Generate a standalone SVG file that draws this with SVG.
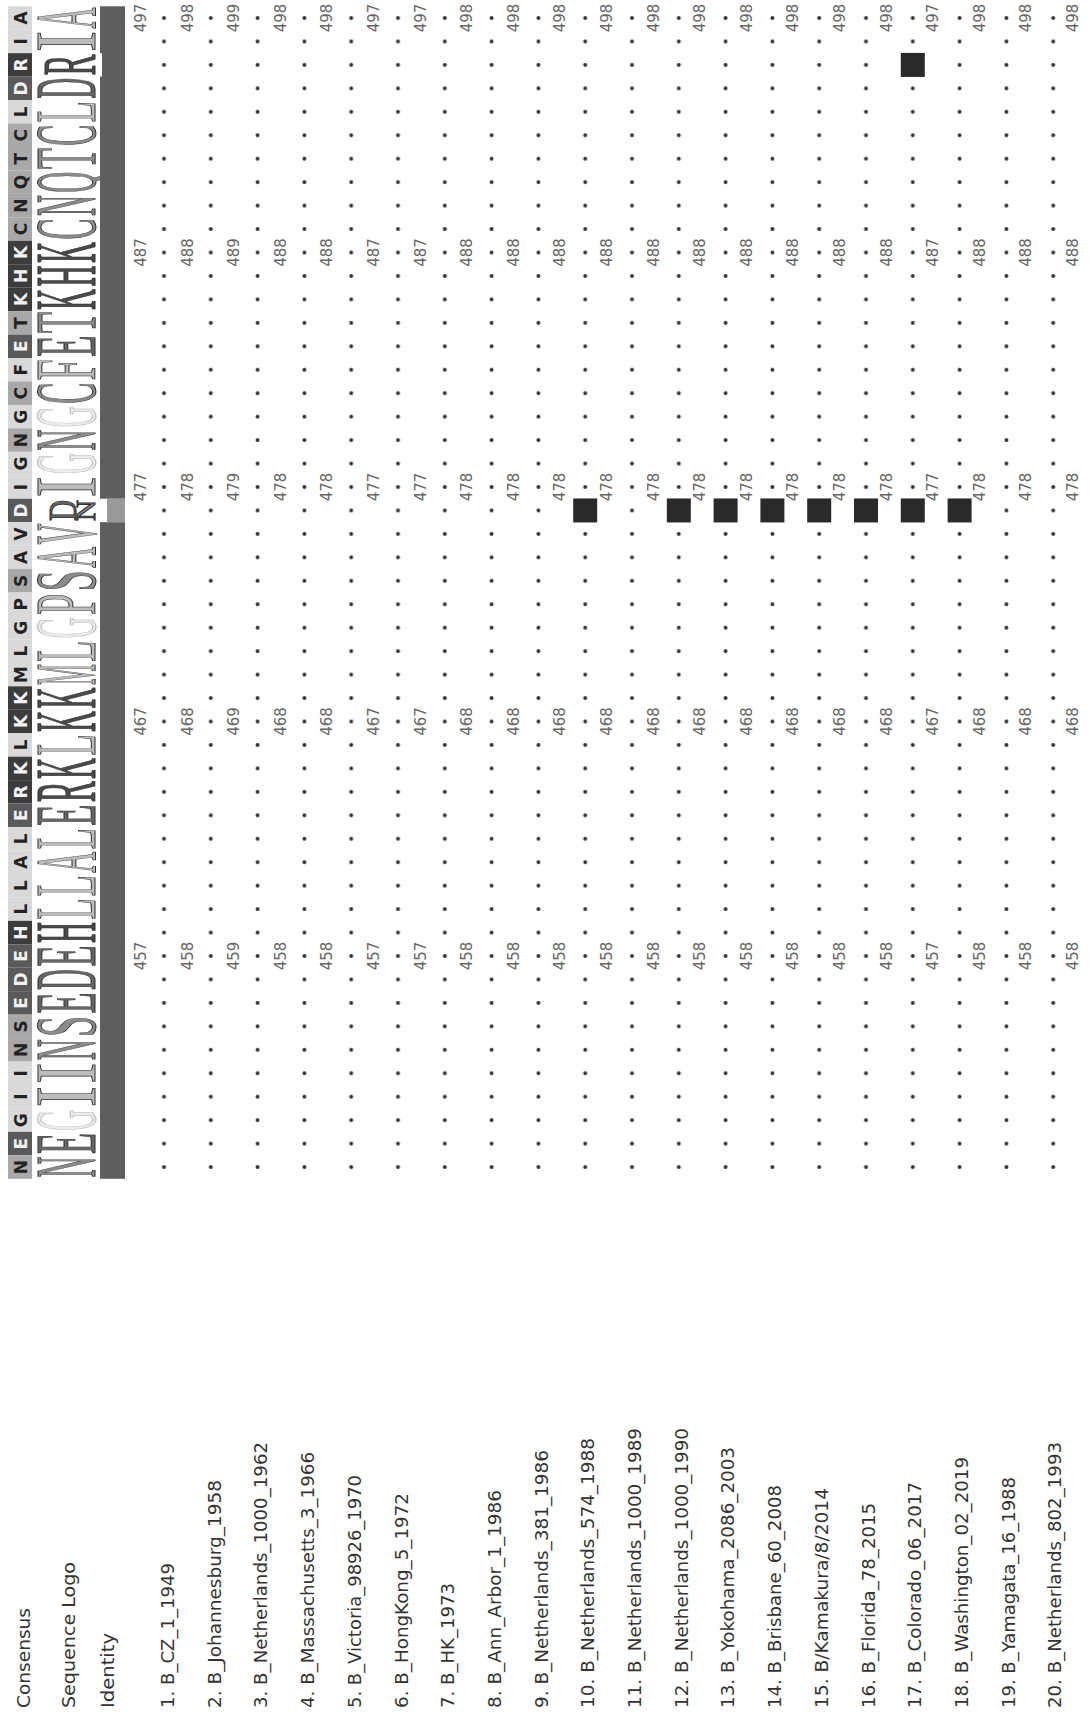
<svg xmlns="http://www.w3.org/2000/svg" width="1090" height="1721" viewBox="0 0 1090 1721">
<style>
.cb{fill:#3c3c3c}.cd{fill:#5a5a5a}.cm{fill:#a8a8a8}.cl{fill:#d9d9d9}
.ct{font-family:"DejaVu Sans",sans-serif;font-size:17px;font-weight:bold;text-anchor:middle}
.tw{fill:#f2f2f2}.tk{fill:#222}
.lg{font-family:"Liberation Serif",serif;font-size:86px;text-anchor:middle;stroke:#2e2e2e;stroke-width:1}
.ln{fill:#bcbcbc}.lp{fill:#8c8c8c}.la{fill:#666}.lb{fill:#4a4a4a}.lgy{fill:#ececec;stroke:#b4b4b4}
.num{font-family:"DejaVu Sans",sans-serif;font-size:15px;text-anchor:middle;fill:#666}
.lab{font-family:"DejaVu Sans",sans-serif;font-size:18px;fill:#333}
.sq{fill:#2a2a2a}
</style>
<defs>
<pattern id="dots" x="140.6" y="6.275" width="46.8" height="23.45" patternUnits="userSpaceOnUse">
<circle cx="23.4" cy="11.725" r="2" fill="#333"/>
</pattern>
</defs>
<rect width="1090" height="1721" fill="#fff"/>
<g id="consensus">
<rect class="cl" x="8" y="6.28" width="24" height="23.45"/><text class="ct tk" transform="translate(27,18) rotate(-90)">A</text>
<rect class="cl" x="8" y="29.73" width="24" height="23.45"/><text class="ct tk" transform="translate(27,41.45) rotate(-90)">I</text>
<rect class="cb" x="8" y="53.18" width="24" height="23.45"/><text class="ct tw" transform="translate(27,64.9) rotate(-90)">R</text>
<rect class="cd" x="8" y="76.63" width="24" height="23.45"/><text class="ct tw" transform="translate(27,88.35) rotate(-90)">D</text>
<rect class="cl" x="8" y="100.08" width="24" height="23.45"/><text class="ct tk" transform="translate(27,111.8) rotate(-90)">L</text>
<rect class="cm" x="8" y="123.53" width="24" height="23.45"/><text class="ct tk" transform="translate(27,135.25) rotate(-90)">C</text>
<rect class="cm" x="8" y="146.98" width="24" height="23.45"/><text class="ct tk" transform="translate(27,158.7) rotate(-90)">T</text>
<rect class="cm" x="8" y="170.43" width="24" height="23.45"/><text class="ct tk" transform="translate(27,182.15) rotate(-90)">Q</text>
<rect class="cm" x="8" y="193.88" width="24" height="23.45"/><text class="ct tk" transform="translate(27,205.6) rotate(-90)">N</text>
<rect class="cm" x="8" y="217.33" width="24" height="23.45"/><text class="ct tk" transform="translate(27,229.05) rotate(-90)">C</text>
<rect class="cb" x="8" y="240.78" width="24" height="23.45"/><text class="ct tw" transform="translate(27,252.5) rotate(-90)">K</text>
<rect class="cb" x="8" y="264.23" width="24" height="23.45"/><text class="ct tw" transform="translate(27,275.95) rotate(-90)">H</text>
<rect class="cb" x="8" y="287.68" width="24" height="23.45"/><text class="ct tw" transform="translate(27,299.4) rotate(-90)">K</text>
<rect class="cm" x="8" y="311.13" width="24" height="23.45"/><text class="ct tk" transform="translate(27,322.85) rotate(-90)">T</text>
<rect class="cd" x="8" y="334.58" width="24" height="23.45"/><text class="ct tw" transform="translate(27,346.3) rotate(-90)">E</text>
<rect class="cl" x="8" y="358.03" width="24" height="23.45"/><text class="ct tk" transform="translate(27,369.75) rotate(-90)">F</text>
<rect class="cm" x="8" y="381.48" width="24" height="23.45"/><text class="ct tk" transform="translate(27,393.2) rotate(-90)">C</text>
<rect class="cl" x="8" y="404.93" width="24" height="23.45"/><text class="ct tk" transform="translate(27,416.65) rotate(-90)">G</text>
<rect class="cm" x="8" y="428.38" width="24" height="23.45"/><text class="ct tk" transform="translate(27,440.1) rotate(-90)">N</text>
<rect class="cl" x="8" y="451.83" width="24" height="23.45"/><text class="ct tk" transform="translate(27,463.55) rotate(-90)">G</text>
<rect class="cl" x="8" y="475.28" width="24" height="23.45"/><text class="ct tk" transform="translate(27,487) rotate(-90)">I</text>
<rect class="cd" x="8" y="498.73" width="24" height="23.45"/><text class="ct tw" transform="translate(27,510.45) rotate(-90)">D</text>
<rect class="cl" x="8" y="522.18" width="24" height="23.45"/><text class="ct tk" transform="translate(27,533.9) rotate(-90)">V</text>
<rect class="cl" x="8" y="545.63" width="24" height="23.45"/><text class="ct tk" transform="translate(27,557.35) rotate(-90)">A</text>
<rect class="cm" x="8" y="569.08" width="24" height="23.45"/><text class="ct tk" transform="translate(27,580.8) rotate(-90)">S</text>
<rect class="cl" x="8" y="592.53" width="24" height="23.45"/><text class="ct tk" transform="translate(27,604.25) rotate(-90)">P</text>
<rect class="cl" x="8" y="615.98" width="24" height="23.45"/><text class="ct tk" transform="translate(27,627.7) rotate(-90)">G</text>
<rect class="cl" x="8" y="639.43" width="24" height="23.45"/><text class="ct tk" transform="translate(27,651.15) rotate(-90)">L</text>
<rect class="cl" x="8" y="662.88" width="24" height="23.45"/><text class="ct tk" transform="translate(27,674.6) rotate(-90)">M</text>
<rect class="cb" x="8" y="686.33" width="24" height="23.45"/><text class="ct tw" transform="translate(27,698.05) rotate(-90)">K</text>
<rect class="cb" x="8" y="709.78" width="24" height="23.45"/><text class="ct tw" transform="translate(27,721.5) rotate(-90)">K</text>
<rect class="cl" x="8" y="733.23" width="24" height="23.45"/><text class="ct tk" transform="translate(27,744.95) rotate(-90)">L</text>
<rect class="cb" x="8" y="756.68" width="24" height="23.45"/><text class="ct tw" transform="translate(27,768.4) rotate(-90)">K</text>
<rect class="cb" x="8" y="780.13" width="24" height="23.45"/><text class="ct tw" transform="translate(27,791.85) rotate(-90)">R</text>
<rect class="cd" x="8" y="803.58" width="24" height="23.45"/><text class="ct tw" transform="translate(27,815.3) rotate(-90)">E</text>
<rect class="cl" x="8" y="827.03" width="24" height="23.45"/><text class="ct tk" transform="translate(27,838.75) rotate(-90)">L</text>
<rect class="cl" x="8" y="850.48" width="24" height="23.45"/><text class="ct tk" transform="translate(27,862.2) rotate(-90)">A</text>
<rect class="cl" x="8" y="873.93" width="24" height="23.45"/><text class="ct tk" transform="translate(27,885.65) rotate(-90)">L</text>
<rect class="cl" x="8" y="897.38" width="24" height="23.45"/><text class="ct tk" transform="translate(27,909.1) rotate(-90)">L</text>
<rect class="cb" x="8" y="920.83" width="24" height="23.45"/><text class="ct tw" transform="translate(27,932.55) rotate(-90)">H</text>
<rect class="cd" x="8" y="944.28" width="24" height="23.45"/><text class="ct tw" transform="translate(27,956) rotate(-90)">E</text>
<rect class="cd" x="8" y="967.73" width="24" height="23.45"/><text class="ct tw" transform="translate(27,979.45) rotate(-90)">D</text>
<rect class="cd" x="8" y="991.18" width="24" height="23.45"/><text class="ct tw" transform="translate(27,1002.9) rotate(-90)">E</text>
<rect class="cm" x="8" y="1014.63" width="24" height="23.45"/><text class="ct tk" transform="translate(27,1026.35) rotate(-90)">S</text>
<rect class="cm" x="8" y="1038.08" width="24" height="23.45"/><text class="ct tk" transform="translate(27,1049.8) rotate(-90)">N</text>
<rect class="cl" x="8" y="1061.53" width="24" height="23.45"/><text class="ct tk" transform="translate(27,1073.25) rotate(-90)">I</text>
<rect class="cl" x="8" y="1084.98" width="24" height="23.45"/><text class="ct tk" transform="translate(27,1096.7) rotate(-90)">I</text>
<rect class="cl" x="8" y="1108.43" width="24" height="23.45"/><text class="ct tk" transform="translate(27,1120.15) rotate(-90)">G</text>
<rect class="cd" x="8" y="1131.88" width="24" height="23.45"/><text class="ct tw" transform="translate(27,1143.6) rotate(-90)">E</text>
<rect class="cm" x="8" y="1155.33" width="24" height="23.45"/><text class="ct tk" transform="translate(27,1167.05) rotate(-90)">N</text>
</g>
<g id="logo">
<text class="lg ln" transform="translate(95,18) rotate(-90) scale(0.338,1)">A</text>
<text class="lg ln" transform="translate(95,41.45) rotate(-90) scale(0.734,1)">I</text>
<text class="lg lb" transform="translate(95,64.9) rotate(-90) scale(0.414,1)" style="font-size:76px">R</text>
<text class="lg la" transform="translate(95,88.35) rotate(-90) scale(0.338,1)">D</text>
<text class="lg ln" transform="translate(95,111.8) rotate(-90) scale(0.4,1)">L</text>
<text class="lg lp" transform="translate(95,135.25) rotate(-90) scale(0.366,1)">C</text>
<text class="lg lp" transform="translate(95,158.7) rotate(-90) scale(0.4,1)">T</text>
<text class="lg lp" transform="translate(95,182.15) rotate(-90) scale(0.338,1)">Q</text>
<text class="lg lp" transform="translate(95,205.6) rotate(-90) scale(0.338,1)">N</text>
<text class="lg lp" transform="translate(95,229.05) rotate(-90) scale(0.366,1)">C</text>
<text class="lg lb" transform="translate(95,252.5) rotate(-90) scale(0.338,1)">K</text>
<text class="lg lb" transform="translate(95,275.95) rotate(-90) scale(0.338,1)">H</text>
<text class="lg lb" transform="translate(95,299.4) rotate(-90) scale(0.338,1)">K</text>
<text class="lg lp" transform="translate(95,322.85) rotate(-90) scale(0.4,1)">T</text>
<text class="lg la" transform="translate(95,346.3) rotate(-90) scale(0.4,1)">E</text>
<text class="lg ln" transform="translate(95,369.75) rotate(-90) scale(0.439,1)">F</text>
<text class="lg lp" transform="translate(95,393.2) rotate(-90) scale(0.366,1)">C</text>
<text class="lg lgy" transform="translate(95,416.65) rotate(-90) scale(0.338,1)">G</text>
<text class="lg lp" transform="translate(95,440.1) rotate(-90) scale(0.338,1)">N</text>
<text class="lg lgy" transform="translate(95,463.55) rotate(-90) scale(0.338,1)">G</text>
<text class="lg ln" transform="translate(95,487) rotate(-90) scale(0.734,1)">I</text>
<text class="lg la" transform="translate(76,510.45) rotate(-90) scale(0.727,1)" style="font-size:40px">D</text>
<text class="lg lp" transform="translate(95,510.45) rotate(-90) scale(1.08,1)" style="font-size:27px">N</text>
<text class="lg ln" transform="translate(95,533.9) rotate(-90) scale(0.338,1)">V</text>
<text class="lg ln" transform="translate(95,557.35) rotate(-90) scale(0.338,1)">A</text>
<text class="lg lp" transform="translate(95,580.8) rotate(-90) scale(0.439,1)">S</text>
<text class="lg ln" transform="translate(95,604.25) rotate(-90) scale(0.439,1)">P</text>
<text class="lg lgy" transform="translate(95,627.7) rotate(-90) scale(0.338,1)">G</text>
<text class="lg ln" transform="translate(95,651.15) rotate(-90) scale(0.4,1)">L</text>
<text class="lg ln" transform="translate(95,674.6) rotate(-90) scale(0.275,1)">M</text>
<text class="lg lb" transform="translate(95,698.05) rotate(-90) scale(0.338,1)">K</text>
<text class="lg lb" transform="translate(95,721.5) rotate(-90) scale(0.338,1)">K</text>
<text class="lg ln" transform="translate(95,744.95) rotate(-90) scale(0.4,1)">L</text>
<text class="lg lb" transform="translate(95,768.4) rotate(-90) scale(0.338,1)">K</text>
<text class="lg lb" transform="translate(95,791.85) rotate(-90) scale(0.366,1)">R</text>
<text class="lg la" transform="translate(95,815.3) rotate(-90) scale(0.4,1)">E</text>
<text class="lg ln" transform="translate(95,838.75) rotate(-90) scale(0.4,1)">L</text>
<text class="lg ln" transform="translate(95,862.2) rotate(-90) scale(0.338,1)">A</text>
<text class="lg ln" transform="translate(95,885.65) rotate(-90) scale(0.4,1)">L</text>
<text class="lg ln" transform="translate(95,909.1) rotate(-90) scale(0.4,1)">L</text>
<text class="lg lb" transform="translate(95,932.55) rotate(-90) scale(0.338,1)">H</text>
<text class="lg la" transform="translate(95,956) rotate(-90) scale(0.4,1)">E</text>
<text class="lg la" transform="translate(95,979.45) rotate(-90) scale(0.338,1)">D</text>
<text class="lg la" transform="translate(95,1002.9) rotate(-90) scale(0.4,1)">E</text>
<text class="lg lp" transform="translate(95,1026.35) rotate(-90) scale(0.439,1)">S</text>
<text class="lg lp" transform="translate(95,1049.8) rotate(-90) scale(0.338,1)">N</text>
<text class="lg ln" transform="translate(95,1073.25) rotate(-90) scale(0.734,1)">I</text>
<text class="lg ln" transform="translate(95,1096.7) rotate(-90) scale(0.734,1)">I</text>
<text class="lg lgy" transform="translate(95,1120.15) rotate(-90) scale(0.338,1)">G</text>
<text class="lg la" transform="translate(95,1143.6) rotate(-90) scale(0.4,1)">E</text>
<text class="lg lp" transform="translate(95,1167.05) rotate(-90) scale(0.338,1)">N</text>
</g>
<g id="identity">
<rect x="100" y="6.28" width="25" height="1172.5" fill="#5e5e5e"/>
<rect x="100" y="53.18" width="2" height="23.45" fill="#fff"/>
<rect x="100" y="498.73" width="25" height="23.45" fill="#fff"/>
<rect x="107" y="498.73" width="18" height="23.45" fill="#9a9a9a"/>
</g>
<g id="dots">
<rect x="140.6" y="6.275" width="936" height="1172.5" fill="url(#dots)"/>
</g>
<g id="differences">
<rect class="sq" x="573.2" y="498.45" width="24" height="24"/>
<rect class="sq" x="666.8" y="498.45" width="24" height="24"/>
<rect class="sq" x="713.6" y="498.45" width="24" height="24"/>
<rect class="sq" x="760.4" y="498.45" width="24" height="24"/>
<rect class="sq" x="807.2" y="498.45" width="24" height="24"/>
<rect class="sq" x="854" y="498.45" width="24" height="24"/>
<rect class="sq" x="900.8" y="498.45" width="24" height="24"/>
<rect class="sq" x="947.6" y="498.45" width="24" height="24"/>
<rect class="sq" x="900.8" y="52.9" width="24" height="24"/>
</g>
<g id="numbers">
<g transform="translate(0,18)">
<text class="num" transform="translate(146,0) rotate(-90)">497</text>
<text class="num" transform="translate(192.6,0) rotate(-90)">498</text>
<text class="num" transform="translate(239.2,0) rotate(-90)">499</text>
<text class="num" transform="translate(285.8,0) rotate(-90)">498</text>
<text class="num" transform="translate(332.4,0) rotate(-90)">498</text>
<text class="num" transform="translate(379,0) rotate(-90)">497</text>
<text class="num" transform="translate(425.6,0) rotate(-90)">497</text>
<text class="num" transform="translate(472.2,0) rotate(-90)">498</text>
<text class="num" transform="translate(518.8,0) rotate(-90)">498</text>
<text class="num" transform="translate(565.4,0) rotate(-90)">498</text>
<text class="num" transform="translate(612,0) rotate(-90)">498</text>
<text class="num" transform="translate(658.6,0) rotate(-90)">498</text>
<text class="num" transform="translate(705.2,0) rotate(-90)">498</text>
<text class="num" transform="translate(751.8,0) rotate(-90)">498</text>
<text class="num" transform="translate(798.4,0) rotate(-90)">498</text>
<text class="num" transform="translate(845,0) rotate(-90)">498</text>
<text class="num" transform="translate(891.6,0) rotate(-90)">498</text>
<text class="num" transform="translate(938.2,0) rotate(-90)">497</text>
<text class="num" transform="translate(984.8,0) rotate(-90)">498</text>
<text class="num" transform="translate(1031.4,0) rotate(-90)">498</text>
<text class="num" transform="translate(1078,0) rotate(-90)">498</text>
</g>
<g transform="translate(0,252.5)">
<text class="num" transform="translate(146,0) rotate(-90)">487</text>
<text class="num" transform="translate(192.6,0) rotate(-90)">488</text>
<text class="num" transform="translate(239.2,0) rotate(-90)">489</text>
<text class="num" transform="translate(285.8,0) rotate(-90)">488</text>
<text class="num" transform="translate(332.4,0) rotate(-90)">488</text>
<text class="num" transform="translate(379,0) rotate(-90)">487</text>
<text class="num" transform="translate(425.6,0) rotate(-90)">487</text>
<text class="num" transform="translate(472.2,0) rotate(-90)">488</text>
<text class="num" transform="translate(518.8,0) rotate(-90)">488</text>
<text class="num" transform="translate(565.4,0) rotate(-90)">488</text>
<text class="num" transform="translate(612,0) rotate(-90)">488</text>
<text class="num" transform="translate(658.6,0) rotate(-90)">488</text>
<text class="num" transform="translate(705.2,0) rotate(-90)">488</text>
<text class="num" transform="translate(751.8,0) rotate(-90)">488</text>
<text class="num" transform="translate(798.4,0) rotate(-90)">488</text>
<text class="num" transform="translate(845,0) rotate(-90)">488</text>
<text class="num" transform="translate(891.6,0) rotate(-90)">488</text>
<text class="num" transform="translate(938.2,0) rotate(-90)">487</text>
<text class="num" transform="translate(984.8,0) rotate(-90)">488</text>
<text class="num" transform="translate(1031.4,0) rotate(-90)">488</text>
<text class="num" transform="translate(1078,0) rotate(-90)">488</text>
</g>
<g transform="translate(0,487)">
<text class="num" transform="translate(146,0) rotate(-90)">477</text>
<text class="num" transform="translate(192.6,0) rotate(-90)">478</text>
<text class="num" transform="translate(239.2,0) rotate(-90)">479</text>
<text class="num" transform="translate(285.8,0) rotate(-90)">478</text>
<text class="num" transform="translate(332.4,0) rotate(-90)">478</text>
<text class="num" transform="translate(379,0) rotate(-90)">477</text>
<text class="num" transform="translate(425.6,0) rotate(-90)">477</text>
<text class="num" transform="translate(472.2,0) rotate(-90)">478</text>
<text class="num" transform="translate(518.8,0) rotate(-90)">478</text>
<text class="num" transform="translate(565.4,0) rotate(-90)">478</text>
<text class="num" transform="translate(612,0) rotate(-90)">478</text>
<text class="num" transform="translate(658.6,0) rotate(-90)">478</text>
<text class="num" transform="translate(705.2,0) rotate(-90)">478</text>
<text class="num" transform="translate(751.8,0) rotate(-90)">478</text>
<text class="num" transform="translate(798.4,0) rotate(-90)">478</text>
<text class="num" transform="translate(845,0) rotate(-90)">478</text>
<text class="num" transform="translate(891.6,0) rotate(-90)">478</text>
<text class="num" transform="translate(938.2,0) rotate(-90)">477</text>
<text class="num" transform="translate(984.8,0) rotate(-90)">478</text>
<text class="num" transform="translate(1031.4,0) rotate(-90)">478</text>
<text class="num" transform="translate(1078,0) rotate(-90)">478</text>
</g>
<g transform="translate(0,721.5)">
<text class="num" transform="translate(146,0) rotate(-90)">467</text>
<text class="num" transform="translate(192.6,0) rotate(-90)">468</text>
<text class="num" transform="translate(239.2,0) rotate(-90)">469</text>
<text class="num" transform="translate(285.8,0) rotate(-90)">468</text>
<text class="num" transform="translate(332.4,0) rotate(-90)">468</text>
<text class="num" transform="translate(379,0) rotate(-90)">467</text>
<text class="num" transform="translate(425.6,0) rotate(-90)">467</text>
<text class="num" transform="translate(472.2,0) rotate(-90)">468</text>
<text class="num" transform="translate(518.8,0) rotate(-90)">468</text>
<text class="num" transform="translate(565.4,0) rotate(-90)">468</text>
<text class="num" transform="translate(612,0) rotate(-90)">468</text>
<text class="num" transform="translate(658.6,0) rotate(-90)">468</text>
<text class="num" transform="translate(705.2,0) rotate(-90)">468</text>
<text class="num" transform="translate(751.8,0) rotate(-90)">468</text>
<text class="num" transform="translate(798.4,0) rotate(-90)">468</text>
<text class="num" transform="translate(845,0) rotate(-90)">468</text>
<text class="num" transform="translate(891.6,0) rotate(-90)">468</text>
<text class="num" transform="translate(938.2,0) rotate(-90)">467</text>
<text class="num" transform="translate(984.8,0) rotate(-90)">468</text>
<text class="num" transform="translate(1031.4,0) rotate(-90)">468</text>
<text class="num" transform="translate(1078,0) rotate(-90)">468</text>
</g>
<g transform="translate(0,956)">
<text class="num" transform="translate(146,0) rotate(-90)">457</text>
<text class="num" transform="translate(192.6,0) rotate(-90)">458</text>
<text class="num" transform="translate(239.2,0) rotate(-90)">459</text>
<text class="num" transform="translate(285.8,0) rotate(-90)">458</text>
<text class="num" transform="translate(332.4,0) rotate(-90)">458</text>
<text class="num" transform="translate(379,0) rotate(-90)">457</text>
<text class="num" transform="translate(425.6,0) rotate(-90)">457</text>
<text class="num" transform="translate(472.2,0) rotate(-90)">458</text>
<text class="num" transform="translate(518.8,0) rotate(-90)">458</text>
<text class="num" transform="translate(565.4,0) rotate(-90)">458</text>
<text class="num" transform="translate(612,0) rotate(-90)">458</text>
<text class="num" transform="translate(658.6,0) rotate(-90)">458</text>
<text class="num" transform="translate(705.2,0) rotate(-90)">458</text>
<text class="num" transform="translate(751.8,0) rotate(-90)">458</text>
<text class="num" transform="translate(798.4,0) rotate(-90)">458</text>
<text class="num" transform="translate(845,0) rotate(-90)">458</text>
<text class="num" transform="translate(891.6,0) rotate(-90)">458</text>
<text class="num" transform="translate(938.2,0) rotate(-90)">457</text>
<text class="num" transform="translate(984.8,0) rotate(-90)">458</text>
<text class="num" transform="translate(1031.4,0) rotate(-90)">458</text>
<text class="num" transform="translate(1078,0) rotate(-90)">458</text>
</g>
</g>
<g id="labels">
<text class="lab" transform="translate(30,1708) rotate(-90)" textLength="100" lengthAdjust="spacingAndGlyphs">Consensus</text>
<text class="lab" transform="translate(75,1708) rotate(-90)" textLength="146" lengthAdjust="spacingAndGlyphs">Sequence Logo</text>
<text class="lab" transform="translate(114,1708) rotate(-90)" textLength="75" lengthAdjust="spacingAndGlyphs">Identity</text>
<text class="lab" transform="translate(174,1708) rotate(-90)" textLength="145" lengthAdjust="spacingAndGlyphs">1. B_CZ_1_1949</text>
<text class="lab" transform="translate(220.7,1708) rotate(-90)" textLength="228" lengthAdjust="spacingAndGlyphs">2. B_Johannesburg_1958</text>
<text class="lab" transform="translate(267.4,1708) rotate(-90)" textLength="266" lengthAdjust="spacingAndGlyphs">3. B_Netherlands_1000_1962</text>
<text class="lab" transform="translate(314.1,1708) rotate(-90)" textLength="256" lengthAdjust="spacingAndGlyphs">4. B_Massachusetts_3_1966</text>
<text class="lab" transform="translate(360.8,1708) rotate(-90)" textLength="233" lengthAdjust="spacingAndGlyphs">5. B_Victoria_98926_1970</text>
<text class="lab" transform="translate(407.5,1708) rotate(-90)" textLength="215" lengthAdjust="spacingAndGlyphs">6. B_HongKong_5_1972</text>
<text class="lab" transform="translate(454.2,1708) rotate(-90)" textLength="125" lengthAdjust="spacingAndGlyphs">7. B_HK_1973</text>
<text class="lab" transform="translate(500.9,1708) rotate(-90)" textLength="218" lengthAdjust="spacingAndGlyphs">8. B_Ann_Arbor_1_1986</text>
<text class="lab" transform="translate(547.6,1708) rotate(-90)" textLength="258" lengthAdjust="spacingAndGlyphs">9. B_Netherlands_381_1986</text>
<text class="lab" transform="translate(594.3,1708) rotate(-90)" textLength="270" lengthAdjust="spacingAndGlyphs">10. B_Netherlands_574_1988</text>
<text class="lab" transform="translate(641,1708) rotate(-90)" textLength="280" lengthAdjust="spacingAndGlyphs">11. B_Netherlands_1000_1989</text>
<text class="lab" transform="translate(687.7,1708) rotate(-90)" textLength="280" lengthAdjust="spacingAndGlyphs">12. B_Netherlands_1000_1990</text>
<text class="lab" transform="translate(734.4,1708) rotate(-90)" textLength="261" lengthAdjust="spacingAndGlyphs">13. B_Yokohama_2086_2003</text>
<text class="lab" transform="translate(781.1,1708) rotate(-90)" textLength="223" lengthAdjust="spacingAndGlyphs">14. B_Brisbane_60_2008</text>
<text class="lab" transform="translate(827.8,1708) rotate(-90)" textLength="220" lengthAdjust="spacingAndGlyphs">15. B/Kamakura/8/2014</text>
<text class="lab" transform="translate(874.5,1708) rotate(-90)" textLength="205" lengthAdjust="spacingAndGlyphs">16. B_Florida_78_2015</text>
<text class="lab" transform="translate(921.2,1708) rotate(-90)" textLength="226" lengthAdjust="spacingAndGlyphs">17. B_Colorado_06_2017</text>
<text class="lab" transform="translate(967.9,1708) rotate(-90)" textLength="251" lengthAdjust="spacingAndGlyphs">18. B_Washington_02_2019</text>
<text class="lab" transform="translate(1014.6,1708) rotate(-90)" textLength="231" lengthAdjust="spacingAndGlyphs">19. B_Yamagata_16_1988</text>
<text class="lab" transform="translate(1061.3,1708) rotate(-90)" textLength="266" lengthAdjust="spacingAndGlyphs">20. B_Netherlands_802_1993</text>
</g>
</svg>
